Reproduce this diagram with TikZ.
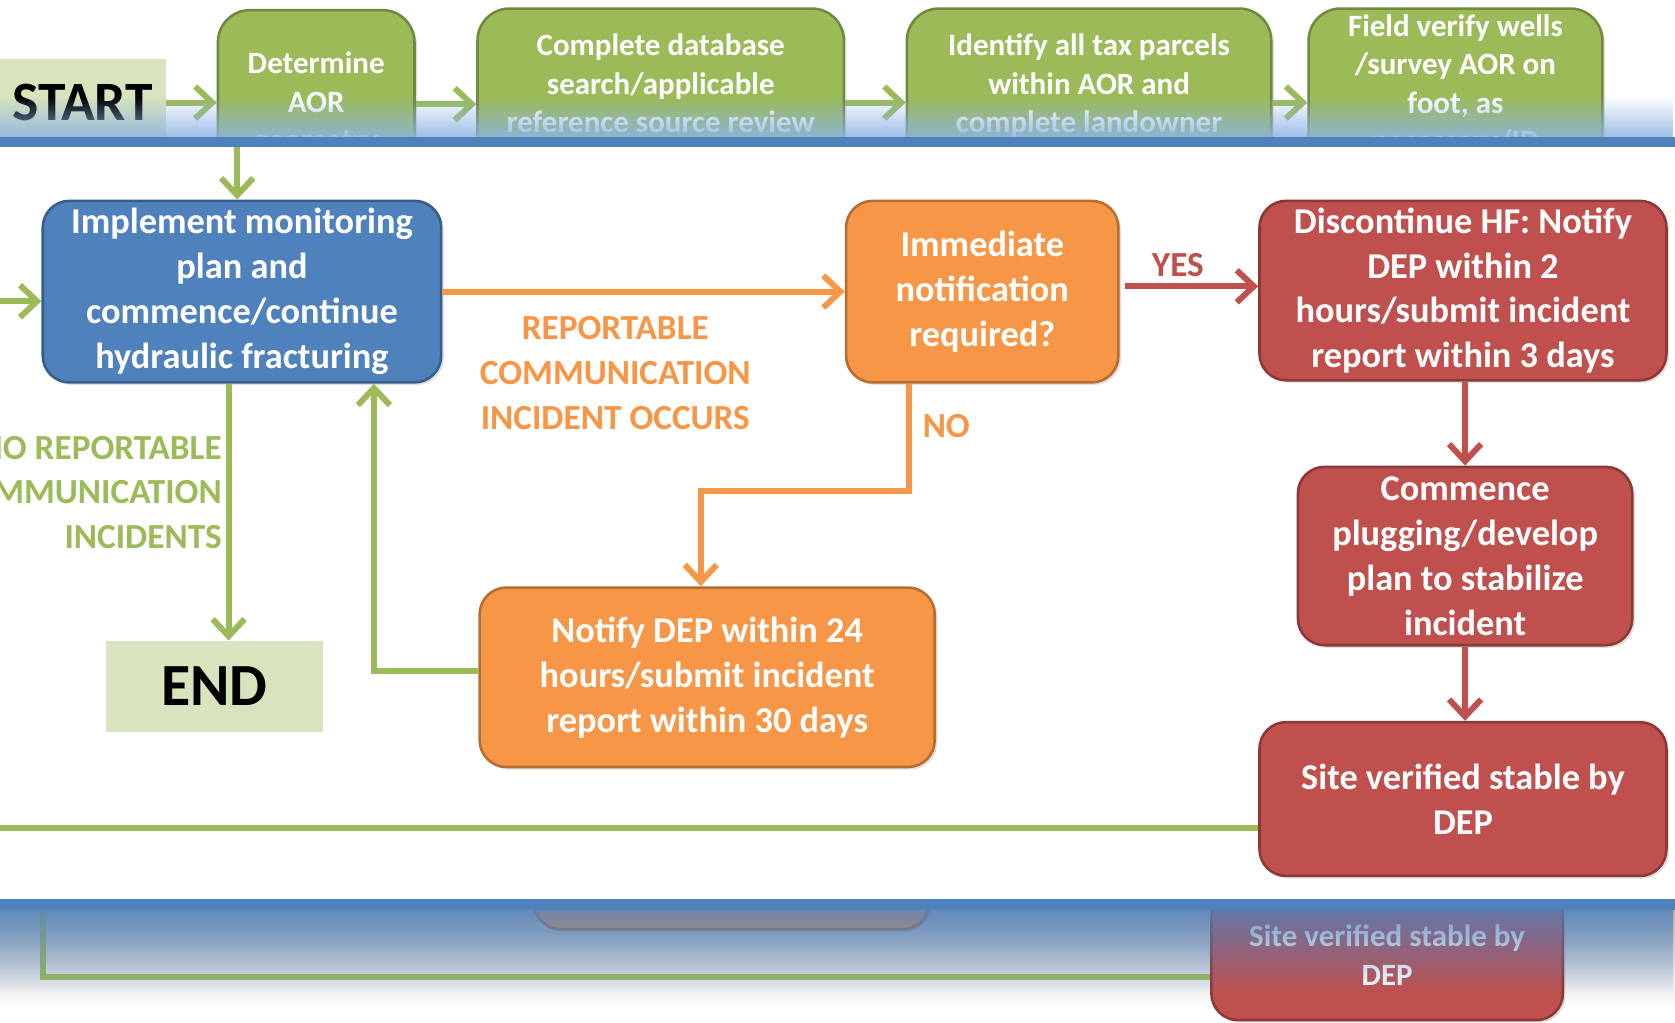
\documentclass[tikz,border=0pt]{standalone}
\usepackage{fontspec}
\setmainfont{Carlito}
\usetikzlibrary{arrows.meta,fadings,shadows}

\definecolor{accgreen}{HTML}{9BBB59}
\definecolor{accgreenline}{HTML}{71893F}
\definecolor{accblue}{HTML}{4F81BD}
\definecolor{accblueline}{HTML}{385D8A}
\definecolor{accorange}{HTML}{F79646}
\definecolor{accorangeline}{HTML}{B66D31}
\definecolor{accred}{HTML}{C0504D}
\definecolor{accredline}{HTML}{8C3836}
\definecolor{palegreen}{HTML}{D7E4BD}
\definecolor{haze}{HTML}{8DB3E2}

\tikzfading[name=hazeup, top color=transparent!100, bottom color=transparent!15]
\tikzfading[name=hazedown, top color=transparent!20, bottom color=transparent!100]

\tikzset{
	box/.style={rounded corners=12.5pt, line width=1.2pt, align=center, text=white, inner sep=0pt,
		font=\fontsize{17}{21}\selectfont\bfseries,
		drop shadow={opacity=0.25, shadow xshift=1.2pt, shadow yshift=-1.2pt}},
	topbox/.style={box, rounded corners=15pt, fill=accgreen, draw=accgreenline, minimum height=88pt,
		font=\fontsize{14.5}{18}\selectfont\bfseries},
	lightbox/.style={fill=palegreen, text=black, inner sep=0pt},
	lbl/.style={font=\fontsize{16.5}{21}\selectfont\bfseries, align=center, inner sep=2pt},
	gline/.style={draw=accgreen, line width=2.8pt},
	garrow/.style={gline, -{Straight Barb[length=8pt,width=15pt]}},
	oarrow/.style={draw=accorange, line width=2.8pt, -{Straight Barb[length=8pt,width=15pt]}},
	rarrow/.style={draw=accred, line width=2.8pt, -{Straight Barb[length=8pt,width=15pt]}}
}

\begin{document}
\begin{tikzpicture}[x=0.5pt, y=-0.5pt]
		%%%%% START %%%%%
		\useasboundingbox (0,0) rectangle (1568,957);
		\clip (0,0) rectangle (1568,957);
		\fill[white] (0,0) rectangle (1568,957);
		
		% top strip
		\begin{scope}
			\clip (0,0) rectangle (1568,128);
			\node[lightbox, minimum width=77.5pt, minimum height=41pt, font=\fontsize{26}{30}\selectfont\bfseries] (start) at (77.5,96) {START};
			\node[topbox, minimum width=92pt] (aor) at (296,97.5) {Determine\\AOR\\geometry};
			\node[topbox, minimum width=171.5pt] (dbsearch) at (618.5,96) {Complete database\\search/applicable\\reference source review\\\mbox{}};
			\node[topbox, minimum width=170.5pt] (parcels) at (1019.5,96) {Identify all tax parcels\\within AOR and\\complete landowner\\\mbox{}};
			\node[topbox, minimum width=137.5pt] (fieldcheck) at (1362.5,96) {Field verify wells\\/survey AOR on\\foot, as\\necessary/ID\\\mbox{}};
			
			\draw[garrow] (start) -- (start -| aor.west);
			\draw[garrow] (aor) -- (aor -| dbsearch.west);
			\draw[garrow] (dbsearch) -- (dbsearch -| parcels.west);
			\draw[garrow] (parcels) -- (parcels -| fieldcheck.west);
			
			\fill[haze, path fading=hazeup] (0,90) rectangle (1568,128);
		\end{scope}
		\fill[accblue] (0,128) rectangle (1568,138);
		
		% main flow
		\node[box, fill=accblue, draw=accblueline, minimum width=186.5pt, minimum height=85pt] (monitor) at (226.5,273) {Implement monitoring\\plan and\\commence/continue\\hydraulic fracturing};
		\node[box, fill=accorange, draw=accorangeline, minimum width=127.5pt, minimum height=85pt] (immediate) at (919.5,273) {Immediate\\notification\\required?};
		\node[box, fill=accred, draw=accredline, minimum width=190.5pt, minimum height=84pt] (discontinue) at (1369.5,272) {Discontinue HF: Notify\\DEP within 2\\hours/submit incident\\report within 3 days};
		\node[box, fill=accred, draw=accredline, minimum width=156.5pt, minimum height=83.5pt] (plugging) at (1371.5,520.5) {Commence\\plugging/develop\\plan to stabilize\\incident};
		\node[box, fill=accred, draw=accredline, minimum width=190.5pt, minimum height=72pt] (stable) at (1369.5,748) {Site verified stable by\\DEP};
		\node[box, fill=accorange, draw=accorangeline, minimum width=213pt, minimum height=84pt] (notify) at (662,634) {Notify DEP within 24\\hours/submit incident\\report within 30 days};
		\node[lightbox, minimum width=101.5pt, minimum height=42.5pt, font=\fontsize{28}{32}\selectfont\bfseries] (finish) at (200.5,642.5) {END};
		
		\node[lbl, text=accorange] (reportable) at (576,349) {REPORTABLE\\COMMUNICATION\\INCIDENT OCCURS};
		\node[lbl, text=accgreen, align=right, anchor=east, inner sep=0pt] (noreport) at (208,461) {NO REPORTABLE\\COMMUNICATION\\INCIDENTS};
		
		\coordinate (fromtop) at (222,138);
		\coordinate (fromleft) at (0,282);
		\coordinate (toleft) at (0,775);
		
		\draw[garrow] (fromtop) -- (fromtop |- monitor.north);
		\draw[garrow] (fromleft) -- (fromleft -| monitor.west);
		\draw[oarrow] (monitor) -- (immediate);
		\draw[rarrow, shorten <=2.5pt] ([yshift=2.5pt]immediate.east) -- ([yshift=2.5pt]immediate.east -| discontinue.west) node[lbl, text=accred, pos=0.42, above=1pt] {YES};
		\draw[oarrow] ([xshift=-34.25pt]immediate.south) -- ++(0,100) node[lbl, text=accorange, pos=0.4, right=3pt] {NO} -| ([xshift=-3pt]notify.north);
		\draw[garrow] ([yshift=3pt]notify.west) -| ([xshift=61.75pt]monitor.south);
		\draw[garrow] ([xshift=-6.25pt]monitor.south) -- ([xshift=-6.25pt]monitor.south |- finish.north);
		\draw[rarrow] (discontinue.south -| plugging.north) -- (plugging.north);
		\draw[rarrow] (plugging) -- (plugging |- stable.north);
		\draw[gline] (stable.west |- toleft) -- (toleft);
		
		% bottom strip
		\begin{scope}
			\clip (0,852) rectangle (1568,957);
			\shade[top color=black!30, bottom color=white] (0,852) rectangle (1568,945);
			\node[box, fill=accorange, draw=accorangeline, minimum width=185pt, minimum height=72.5pt] (notifyecho) at (685,797.5) {};
			\node[box, fill=accred, draw=accredline, minimum width=164.5pt, minimum height=61pt, font=\fontsize{14.5}{18}\selectfont\bfseries] (stableecho) at (1298.5,894) {Site verified stable by\\DEP};
			\coordinate (echotop) at (40,840);
			\draw[gline] (echotop) |- ([yshift=-10.5pt]stableecho.west);
			\fill[accblue, path fading=hazedown] (0,852) rectangle (1568,930);
		\end{scope}
		\fill[accblue] (0,842) rectangle (1568,852);
		
		%%%%% END %%%%%
	\end{tikzpicture}
\end{document}
